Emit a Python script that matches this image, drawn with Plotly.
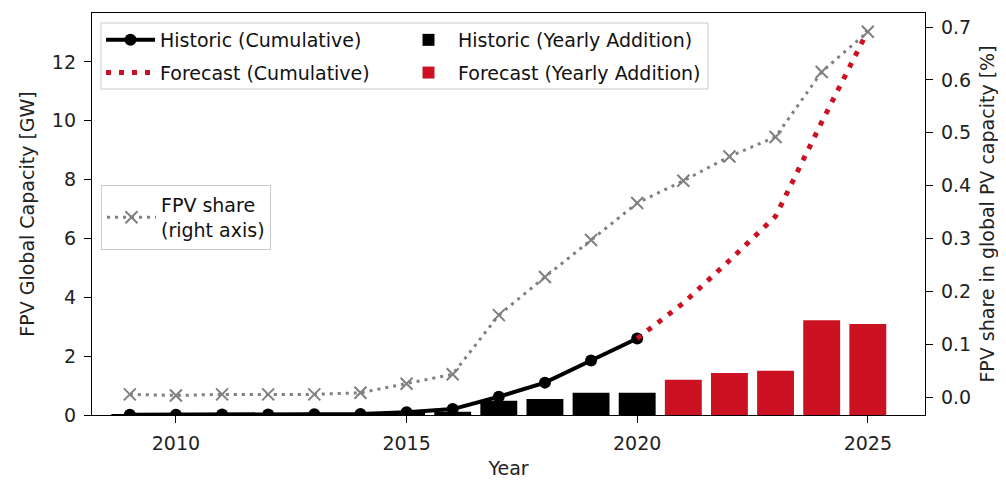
import plotly.graph_objects as go

# ---------------- data ----------------
hist_years = [2009, 2010, 2011, 2012, 2013, 2014, 2015, 2016, 2017, 2018, 2019, 2020]
hist_cumulative = [0.005, 0.01, 0.015, 0.02, 0.025, 0.035, 0.09, 0.2, 0.62, 1.1, 1.85, 2.6]
hist_yearly = [0.005, 0.005, 0.005, 0.005, 0.005, 0.01, 0.055, 0.11, 0.48, 0.54, 0.76, 0.76]

fc_line_years = [2020, 2021, 2022, 2023, 2024, 2025]
fc_cumulative = [2.6, 3.8, 5.25, 6.75, 9.95, 13.05]
fc_bar_years = [2021, 2022, 2023, 2024, 2025]
fc_yearly = [1.2, 1.43, 1.5, 3.22, 3.09]

share_years = list(range(2009, 2026))
share_values = [0.005, 0.003, 0.005, 0.005, 0.005, 0.008, 0.025, 0.043, 0.155,
                0.227, 0.297, 0.367, 0.409, 0.455, 0.492, 0.615, 0.691]

x_ticks = [2010, 2015, 2020, 2025]
y_ticks = [0, 2, 4, 6, 8, 10, 12]
y2_ticks = [0.0, 0.1, 0.2, 0.3, 0.4, 0.5, 0.6, 0.7]

# ---------------- style ----------------
RED = "#CC1123"
GRAY = "#808080"
FONT = "DejaVu Sans"
FS = 19
OFF = 8  # default body margin of the html page
W, H = 998, 474
L, T = 84, 5
PW, PH = 833, 402
R, B = W - L - PW, H - T - PH


def px_x(px):
    return (px - OFF - L) / PW


def px_y(py):
    return 1 - (py - OFF - T) / PH


fig = go.Figure()

fig.add_trace(go.Bar(x=hist_years, y=hist_yearly, marker=dict(color="black", line_width=0),
                     width=0.8, name="Historic (Yearly Addition)", legend="legend2",
                     legendgroup="g3"))
fig.add_trace(go.Bar(x=fc_bar_years, y=fc_yearly, marker=dict(color=RED, line_width=0),
                     width=0.8, name="Forecast (Yearly Addition)", legend="legend2",
                     legendgroup="g4"))
fig.add_trace(go.Scatter(x=hist_years, y=hist_cumulative, mode="lines+markers",
                         line=dict(color="black", width=4),
                         marker=dict(symbol="circle", size=12, color="black"),
                         name="Historic (Cumulative)", legend="legend", legendgroup="g1"))
fig.add_trace(go.Scatter(x=fc_line_years, y=fc_cumulative, mode="lines",
                         line=dict(color=RED, width=5, dash="5px,8px"),
                         name="Forecast (Cumulative)", legend="legend", legendgroup="g2"))
fig.add_trace(go.Scatter(x=share_years, y=share_values, yaxis="y2", mode="lines+markers",
                         line=dict(color=GRAY, width=3, dash="3px,5px"),
                         marker=dict(symbol="x-thin", size=12, color=GRAY,
                                     line=dict(color=GRAY, width=2)),
                         name="FPV share<br>(right axis)", legend="legend3"))

axis_common = dict(showgrid=False, zeroline=False, showline=True, linecolor="black",
                   linewidth=1.3, ticks="outside", ticklen=7, tickwidth=1.3, automargin=False,
                   ticklabelstandoff=4,
                   tickcolor="black", tickfont=dict(family=FONT, size=FS, color="#222"))

title_font = dict(family=FONT, size=FS, color="#222")

leg_common = dict(font=dict(family=FONT, size=FS, color="#111"), bgcolor="rgba(0,0,0,0)",
                  borderwidth=0, orientation="v", xanchor="left", yanchor="top",
                  tracegroupgap=5, itemwidth=49)

fig.update_layout(
    width=W, height=H,
    margin=dict(l=L, r=R, t=T, b=B, autoexpand=False),
    paper_bgcolor="white", plot_bgcolor="white",
    barmode="overlay",
    xaxis=dict(**axis_common, mirror=True, range=[2008.18, 2026.24], tickvals=x_ticks,
               title=dict(text="Year", font=title_font, standoff=8)),
    yaxis=dict(**axis_common, mirror=True, range=[0, 13.66], tickvals=y_ticks,
               title=dict(text="FPV Global Capacity [GW]", font=title_font, standoff=12)),
    yaxis2=dict(**axis_common, overlaying="y", side="right", range=[-0.034, 0.7265],
                tickvals=y2_ticks, tickformat=".1f",
                title=dict(text="FPV share in global PV capacity [%]", font=title_font,
                           standoff=10)),
    legend=dict(**leg_common, x=px_x(101), y=px_y(21)),
    legend2=dict(**leg_common, x=px_x(399), y=px_y(21)),
    legend3=dict(font=dict(family=FONT, size=FS, color="#111"), bgcolor="white",
                 bordercolor="#cccccc", borderwidth=1, xanchor="left", yanchor="top",
                 x=px_x(101), y=px_y(185), itemwidth=49),
    shapes=[dict(type="rect", xref="paper", yref="paper", x0=px_x(101), x1=px_x(708),
                 y0=px_y(23), y1=px_y(89), line=dict(color="#cccccc", width=1),
                 fillcolor="rgba(0,0,0,0)", layer="above")],
    showlegend=True,
)

fig.write_html("out.html")
